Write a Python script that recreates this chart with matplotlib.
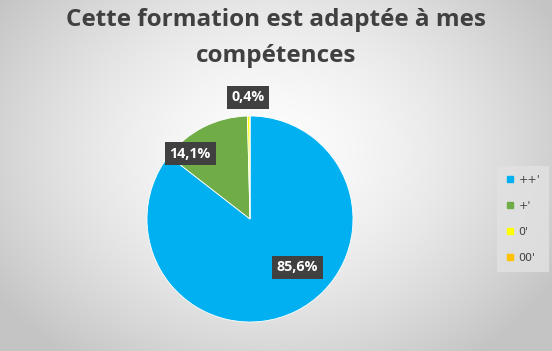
import numpy as np
import matplotlib
matplotlib.use("Agg")
import matplotlib.pyplot as plt
from matplotlib.lines import Line2D

categories = ["++'", "+'", "0'", "00'"]
values = [85.6, 14.1, 0.4, 0.0]
colors = ["#00B0F0", "#70AD47", "#FFFF00", "#FFC000"]
title_lines = ["Cette formation est adaptée à mes", "compétences"]
# label placement (in pie radius units, relative to centre)
label_pos = [(0.46, -0.47), (-0.58, 0.635), (-0.02, 1.18), None]

W, H = 552, 351
fig = plt.figure(figsize=(W / 100, H / 100), dpi=100)

# radial gradient background
bg = fig.add_axes([0, 0, 1, 1])
yy, xx = np.mgrid[0:H, 0:W]
cx, cy = 270, 150
r = np.sqrt(((xx - cx) / 330.0) ** 2 + ((yy - cy) / 260.0) ** 2)
r = np.clip(r, 0, 1)
val = 0.99 - 0.22 * r ** 1.6
bg.imshow(np.dstack([val, val, val]), extent=[0, 1, 0, 1], aspect="auto", origin="upper")
bg.set_axis_off()

ax = fig.add_axes([147 / W, (H - 322) / H, 206 / W, 206 / H])
wedges, _ = ax.pie(values, colors=colors, startangle=90, counterclock=False,
                   wedgeprops=dict(edgecolor="white", linewidth=0.6))
ax.set_xlim(-1, 1)
ax.set_ylim(-1, 1)
ax.set_aspect("auto")

for v, pos in zip(values, label_pos):
    if pos is None or v == 0:
        continue
    ax.text(pos[0], pos[1], f"{v:.1f}%".replace(".", ","), ha="center", va="center",
            color="white", fontsize=10.3, fontweight="bold", family="Open Sans",
            bbox=dict(boxstyle="square,pad=0.33", fc="#404040", ec="none"), zorder=5)

for line, base_px in zip(title_lines, [26, 62]):
    fig.text(0.5, 1 - base_px / H, line, ha="center", va="baseline", fontsize=17.5,
             fontweight="bold", color="#404040", family="Open Sans")

handles = [Line2D([0], [0], marker="s", linestyle="none", markersize=5,
                  markerfacecolor=c, markeredgecolor=c) for c in colors]
leg = fig.legend(handles, categories, loc="center", bbox_to_anchor=(523 / W, 1 - 219 / H),
                 frameon=True, fontsize=8, handlelength=0.8, handletextpad=0.4,
                 labelspacing=1.45, borderpad=0.8, fancybox=False, labelcolor="#404040")
leg.get_frame().set_facecolor("#e2e2e2")
leg.get_frame().set_edgecolor("none")

fig.savefig("out.png", dpi=100)
